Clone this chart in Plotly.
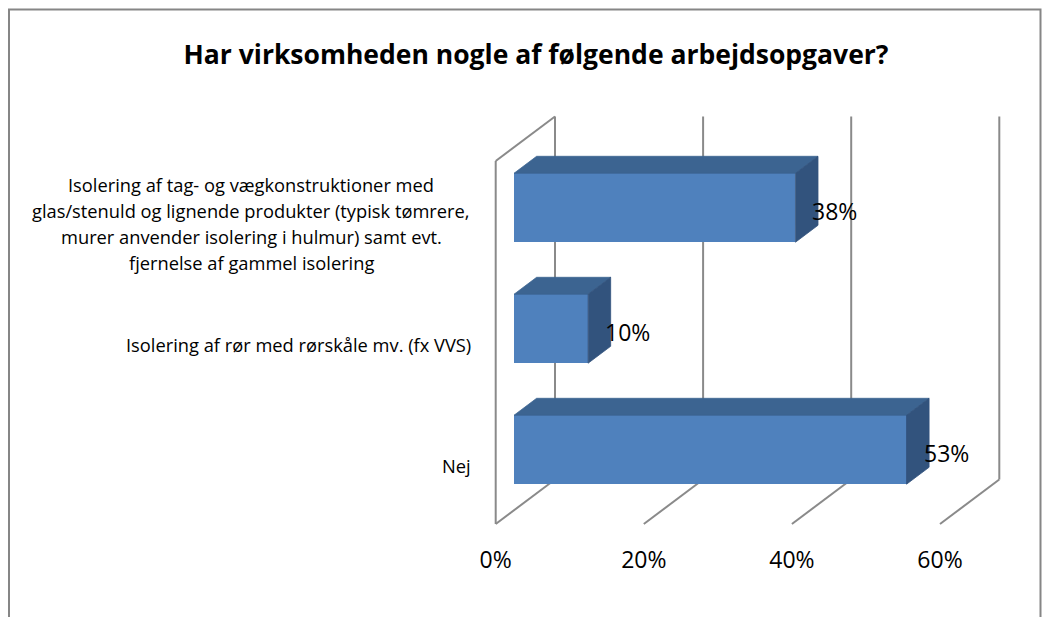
import plotly.graph_objects as go

# ---------------- data ----------------
category_lines = [
    ["Isolering af tag- og vægkonstruktioner med",
     "glas/stenuld og lignende produkter (typisk tømrere,",
     "murer anvender isolering i hulmur) samt evt.",
     "fjernelse af gammel isolering"],
    ["Isolering af rør med rørskåle mv. (fx VVS)"],
    ["Nej"],
]
categories = [" ".join(l) for l in category_lines]
values = [0.38, 0.10, 0.53]
tick_vals = [0, 0.2, 0.4, 0.6]
tick_text = ["0%", "20%", "40%", "60%"]
title = "Har virksomheden nogle af følgende arbejdsopgaver?"

# ---------------- layout constants ----------------
W, H = 1052, 617
FONT = "Open Sans"
PX_PER_X = 740.5          # pixels per unit of value (front plane)
PX_PER_Y = 121.0          # pixels per category step
X0_PX = 495.7             # pixel of value 0 on the front plane
FLOOR_PX = 524.0          # pixel of the front floor edge
MARGIN_B = 80
PLOT_H = H - MARGIN_B
DX = 59.3 / PX_PER_X      # depth vector (value units)
DY = 44.5 / PX_PER_Y      # depth vector (category units)
D_FRONT, D_BACK = 0.31, 0.69
BAR_W = 0.57
FLOOR, CEIL = -0.5, 2.5
GRID = "#8a8a8a"

n = len(categories)
ypos = [n - 1 - i for i in range(n)]

x_range = [-X0_PX / PX_PER_X, (W - X0_PX) / PX_PER_X]
y_range = [FLOOR - (PLOT_H - FLOOR_PX) / PX_PER_Y, FLOOR + FLOOR_PX / PX_PER_Y]

fig = go.Figure()

shapes = []
def line(x0, y0, x1, y1, w=2, color=GRID):
    shapes.append(dict(type="line", xref="x", yref="y",
                       x0=x0, y0=y0, x1=x1, y1=y1,
                       line=dict(color=color, width=w), layer="below"))

# left wall
line(0, FLOOR, 0, CEIL)
line(0, CEIL, DX, CEIL + DY)
line(DX, FLOOR + DY, DX, CEIL + DY)
for t in tick_vals:
    line(t, FLOOR, t + DX, FLOOR + DY)               # floor diagonals
    if t > 0:
        line(t + DX, FLOOR + DY, t + DX, CEIL + DY)  # back wall gridlines

# chart border (paper coords)
shapes.append(dict(type="rect", xref="paper", yref="paper",
                   x0=9 / W, x1=1040.5 / W,
                   y0=(PLOT_H - 700) / PLOT_H, y1=(PLOT_H - 9.5) / PLOT_H,
                   line=dict(color="#868686", width=2), fillcolor="rgba(0,0,0,0)",
                   layer="above"))

# front faces of bars
bx0 = D_FRONT * DX
yfront = [y + D_FRONT * DY for y in ypos]
fig.add_trace(go.Bar(orientation="h", x=values, y=yfront, base=[bx0] * n,
                     width=BAR_W, marker=dict(color="#4F81BD", line=dict(width=0)),
                     hoverinfo="skip", showlegend=False))

ddx = (D_BACK - D_FRONT) * DX
ddy = (D_BACK - D_FRONT) * DY
for v, yc in zip(values, yfront):
    yt, yb = yc + BAR_W / 2, yc - BAR_W / 2
    xr = bx0 + v
    fig.add_trace(go.Scatter(
        x=[bx0, xr, xr + ddx, bx0 + ddx, bx0],
        y=[yt, yt, yt + ddy, yt + ddy, yt],
        fill="toself", fillcolor="#3C6491", mode="lines",
        line=dict(width=0.8, color="#3C6491"), hoverinfo="skip", showlegend=False))
    fig.add_trace(go.Scatter(
        x=[xr, xr, xr + ddx, xr + ddx, xr],
        y=[yb, yt, yt + ddy, yb + ddy, yb],
        fill="toself", fillcolor="#32537D", mode="lines",
        line=dict(width=0.8, color="#32537D"), hoverinfo="skip", showlegend=False))

annotations = []
for v, yc in zip(values, yfront):
    annotations.append(dict(x=bx0 + v, y=yc, xref="x", yref="y", showarrow=False,
                            text=f"{round(v * 100)}%", xanchor="left", yanchor="middle",
                            xshift=15, yshift=-3,
                            font=dict(family=FONT, size=23, color="#000000")))

LINE_H = 26
LABEL_RIGHT_SHIFT = -22.5
LABEL_SIZE = 18.3
for lines, yc in zip(category_lines, ypos):
    k = len(lines)
    if k == 1:
        annotations.append(dict(x=0, y=yc, xref="x", yref="y", showarrow=False,
                                text=lines[0], xanchor="right", yanchor="middle",
                                xshift=LABEL_RIGHT_SHIFT, yshift=-1.5,
                                font=dict(family=FONT, size=LABEL_SIZE, color="#000000")))
    else:
        for j, t in enumerate(lines):
            annotations.append(dict(x=0, y=yc, xref="x", yref="y", showarrow=False,
                                    text=t, xanchor="center", yanchor="middle",
                                    xshift=LABEL_RIGHT_SHIFT - 222,
                                    yshift=((k - 1) / 2 - j) * LINE_H - 1.5,
                                    font=dict(family=FONT, size=LABEL_SIZE, color="#000000")))

fig.update_layout(
    width=W, height=H,
    margin=dict(l=0, r=0, t=0, b=MARGIN_B),
    paper_bgcolor="white", plot_bgcolor="white",
    title=dict(text=f"<b>{title}</b>", x=536 / W, xanchor="center",
               y=1 - 55 / H, yanchor="middle", yref="container",
               font=dict(family=FONT, size=26.5, color="#000000")),
    xaxis=dict(range=x_range, tickvals=tick_vals, ticktext=tick_text,
               showgrid=False, zeroline=False, showline=False,
               ticks="outside", ticklen=2, tickcolor="rgba(0,0,0,0)",
               tickfont=dict(family=FONT, size=23, color="#000000"),
               fixedrange=True),
    yaxis=dict(range=y_range, showgrid=False, zeroline=False, showline=False,
               showticklabels=False, ticks="", fixedrange=True),
    shapes=shapes,
    annotations=annotations,
    bargap=0,
    showlegend=False,
)

fig.write_html("out.html", config={"displayModeBar": False},
               post_script="document.body.style.margin='0';document.body.style.overflow='hidden';")
